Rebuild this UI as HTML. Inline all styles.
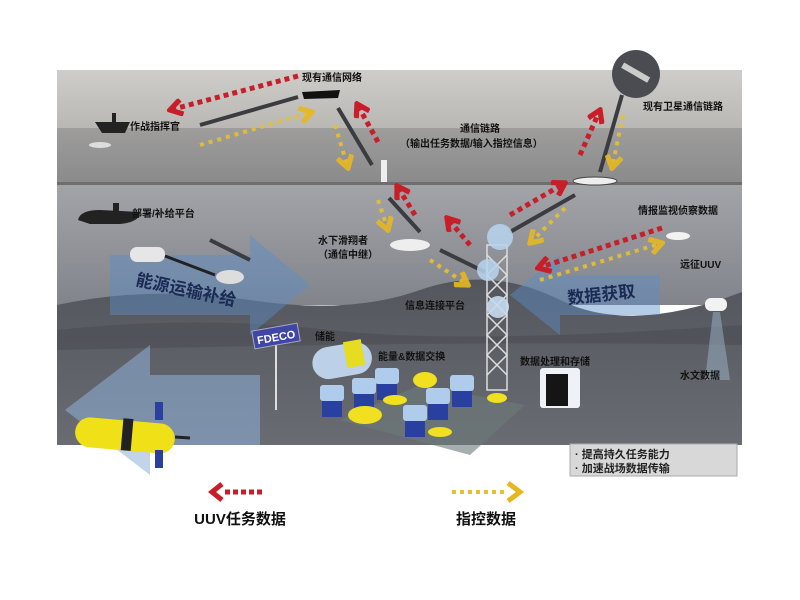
<!DOCTYPE html>
<html><head><meta charset="utf-8"><style>
html,body{margin:0;padding:0;background:#fff;width:800px;height:600px;overflow:hidden}
svg{display:block}
text{font-family:"Liberation Sans","Noto Sans CJK SC",sans-serif;font-weight:bold}
</style></head><body>
<svg width="800" height="600" viewBox="0 0 800 600" xmlns="http://www.w3.org/2000/svg">
<defs>
<linearGradient id="sky" x1="0" y1="0" x2="0" y2="1"><stop offset="0" stop-color="#cfcdca"/><stop offset="1" stop-color="#b9b7b3"/></linearGradient>
<linearGradient id="surf" x1="0" y1="0" x2="0" y2="1"><stop offset="0" stop-color="#9e9d9c"/><stop offset="1" stop-color="#8a8a8b"/></linearGradient>
<linearGradient id="uw" x1="0" y1="0" x2="0" y2="1"><stop offset="0" stop-color="#a3a4a8"/><stop offset="1" stop-color="#81848b"/></linearGradient>
<linearGradient id="bed" x1="0" y1="0" x2="0" y2="1"><stop offset="0" stop-color="#54565d"/><stop offset="1" stop-color="#6a6c73"/></linearGradient>
<marker id="rh" viewBox="0 0 12 12" refX="10" refY="6" markerWidth="18" markerHeight="18" markerUnits="userSpaceOnUse" orient="auto"><path d="M2,1 L10,6 L2,11" fill="none" stroke="#c81e2a" stroke-width="3.5"/></marker>
<marker id="yh" viewBox="0 0 12 12" refX="10" refY="6" markerWidth="18" markerHeight="18" markerUnits="userSpaceOnUse" orient="auto"><path d="M2,1 L10,6 L2,11" fill="none" stroke="#e6b820" stroke-width="3.5"/></marker>
</defs>
<rect x="57" y="70" width="685" height="60" fill="url(#sky)"/>
<rect x="57" y="128" width="685" height="56" fill="url(#surf)"/>
<rect x="57" y="182" width="685" height="4" fill="#6e6e70"/>
<rect x="57" y="185" width="685" height="120" fill="url(#uw)"/>
<path d="M57,305 Q150,285 250,300 T420,290 T560,300 T742,292 L742,445 L57,445Z" fill="url(#bed)"/>
<path d="M57,330 Q200,315 330,330 T742,325 L742,345 Q500,340 57,350Z" fill="#4b4d54" opacity=".6"/>
<!-- blue arrows -->
<path d="M110,255 L250,255 L250,235 L310,285 L250,335 L250,315 L110,315Z" fill="#5c8fc8" opacity=".45"/>
<path d="M660,275 L560,275 L560,255 L510,295 L560,335 L560,315 L660,315Z" fill="#5c8fc8" opacity=".45"/>
<path d="M260,375 L150,375 L150,345 L65,410 L150,475 L150,445 L260,445Z" fill="#8fb0d8" opacity=".55"/>
<!-- link lines -->
<g stroke="#3a3c40" stroke-width="4">
<line x1="200" y1="125" x2="298" y2="97"/><line x1="338" y1="108" x2="372" y2="165"/>
<line x1="389" y1="198" x2="420" y2="232"/><line x1="440" y1="250" x2="485" y2="272"/>
<line x1="510" y1="232" x2="575" y2="195"/><line x1="622" y1="95" x2="600" y2="172"/>
<line x1="250" y1="260" x2="210" y2="240"/>
</g>
<!-- red dotted -->
<g stroke="#c81e2a" stroke-width="5" stroke-dasharray="5 4" fill="none">
<line x1="298" y1="76" x2="170" y2="110" marker-end="url(#rh)"/>
<line x1="378" y1="142" x2="357" y2="104" marker-end="url(#rh)"/>
<line x1="415" y1="215" x2="397" y2="186" marker-end="url(#rh)"/>
<line x1="470" y1="245" x2="447" y2="218" marker-end="url(#rh)"/>
<line x1="510" y1="215" x2="565" y2="183" marker-end="url(#rh)"/>
<line x1="580" y1="155" x2="600" y2="110" marker-end="url(#rh)"/>
<line x1="662" y1="228" x2="538" y2="268" marker-end="url(#rh)"/>
</g>
<!-- yellow dotted -->
<g stroke="#e6c030" stroke-width="4" stroke-dasharray="4 5" fill="none" opacity=".9">
<line x1="200" y1="145" x2="312" y2="112" marker-end="url(#yh)"/>
<line x1="335" y1="125" x2="348" y2="168" marker-end="url(#yh)"/>
<line x1="378" y1="200" x2="388" y2="230" marker-end="url(#yh)"/>
<line x1="430" y1="260" x2="468" y2="285" marker-end="url(#yh)"/>
<line x1="565" y1="208" x2="530" y2="243" marker-end="url(#yh)"/>
<line x1="623" y1="115" x2="612" y2="168" marker-end="url(#yh)"/>
<line x1="540" y1="280" x2="662" y2="243" marker-end="url(#yh)"/>
</g>
<!-- vehicles -->
<path d="M95,122 L130,122 L125,133 L102,133Z" fill="#222"/><rect x="112" y="113" width="4" height="9" fill="#222"/>
<ellipse cx="100" cy="145" rx="11" ry="3" fill="#ddd"/>
<path d="M302,92 L340,90 L338,98 L304,99Z" fill="#111"/>
<path d="M78,220 Q80,210 100,210 L140,212 Q140,222 120,224 L90,224Z" fill="#222"/><rect x="113" y="203" width="6" height="9" fill="#222"/>
<rect x="130" y="247" width="35" height="15" rx="7" fill="#e6e6e6"/>
<line x1="165" y1="256" x2="215" y2="275" stroke="#222" stroke-width="3"/>
<ellipse cx="230" cy="277" rx="14" ry="7" fill="#ddd"/>
<rect x="381" y="160" width="6" height="22" fill="#eee"/>
<ellipse cx="410" cy="245" rx="20" ry="6" fill="#eee"/>
<ellipse cx="595" cy="181" rx="22" ry="4" fill="#eee" stroke="#444"/>
<ellipse cx="678" cy="236" rx="12" ry="4" fill="#f2f2f2"/>
<rect x="705" y="298" width="22" height="13" rx="6" fill="#f2f2f2"/>
<path d="M713,312 L720,312 L730,380 L705,380Z" fill="#9bb4c8" opacity=".5"/>
<circle cx="636" cy="74" r="24" fill="#4a4c52"/><rect x="620" y="70" width="30" height="6" fill="#ccc" transform="rotate(30 636 74)"/>
<!-- tower -->
<g stroke="#ddd" stroke-width="1.5" fill="none">
<rect x="487" y="245" width="20" height="145"/>
<path d="M487,255 L507,275 L487,295 L507,315 L487,335 L507,355 L487,375 M507,255 L487,275 L507,295 L487,315 L507,335 L487,355 L507,375"/>
</g>
<circle cx="500" cy="237" r="13" fill="#b8d4f0" opacity=".85"/>
<circle cx="488" cy="270" r="11" fill="#b8d4f0" opacity=".85"/>
<circle cx="498" cy="307" r="11" fill="#c8daf0" opacity=".9"/>
<!-- seabed equipment -->
<path d="M340,420 L420,385 L525,405 L470,455 Z" fill="#6d7a78" opacity=".6"/>
<rect x="312" y="345" width="60" height="32" rx="16" fill="#bcd0e8" transform="rotate(-10 340 360)"/>
<rect x="346" y="343" width="18" height="26" fill="#e6dc20" transform="rotate(-10 340 360)"/>
<g fill="#2a40a0">
<rect x="322" y="395" width="20" height="22"/><rect x="354" y="388" width="20" height="22"/><rect x="377" y="378" width="20" height="22"/>
<rect x="405" y="415" width="20" height="22"/><rect x="428" y="398" width="20" height="22"/><rect x="452" y="385" width="20" height="22"/>
</g>
<g fill="#b0ccec">
<rect x="320" y="385" width="24" height="16" rx="3"/><rect x="352" y="378" width="24" height="16" rx="3"/><rect x="375" y="368" width="24" height="16" rx="3"/>
<rect x="403" y="405" width="24" height="16" rx="3"/><rect x="426" y="388" width="24" height="16" rx="3"/><rect x="450" y="375" width="24" height="16" rx="3"/>
</g>
<g fill="#f0e020"><ellipse cx="365" cy="415" rx="17" ry="9"/><ellipse cx="425" cy="380" rx="12" ry="8"/><ellipse cx="395" cy="400" rx="12" ry="5"/><ellipse cx="440" cy="432" rx="12" ry="5"/><ellipse cx="497" cy="398" rx="10" ry="5"/></g>
<rect x="540" y="368" width="40" height="40" rx="3" fill="#eef2f6"/><rect x="546" y="374" width="22" height="32" fill="#151515"/>
<line x1="276" y1="345" x2="276" y2="410" stroke="#ddd" stroke-width="2"/>
<rect x="253" y="327" width="46" height="18" fill="#4046a8" stroke="#aab" transform="rotate(-10 276 336)"/>
<text x="276" y="341" font-size="11" fill="#fff" text-anchor="middle" transform="rotate(-10 276 336)">FDECO</text>
<!-- yellow UUV -->
<rect x="75" y="420" width="100" height="30" rx="15" fill="#f0e018" transform="rotate(5 120 435)"/>
<rect x="122" y="418" width="10" height="32" fill="#222" transform="rotate(5 120 435)"/>
<rect x="155" y="402" width="8" height="18" fill="#2a40a0"/><rect x="155" y="450" width="8" height="18" fill="#2a40a0"/>
<line x1="175" y1="437" x2="190" y2="438" stroke="#222" stroke-width="3"/>
<!-- legend box -->
<rect x="570" y="444" width="167" height="32" fill="#d8d8d8" stroke="#aaa"/>
<g font-size="11" fill="#222"><text x="575" y="458">· 提高持久任务能力</text><text x="575" y="472">· 加速战场数据传输</text></g>
<!-- labels -->
<g font-size="10" fill="#111">
<text x="302" y="81">现有通信网络</text>
<text x="130" y="130">作战指挥官</text>
<text x="460" y="132">通信链路</text>
<text x="400" y="147">（输出任务数据/输入指控信息）</text>
<text x="643" y="110">现有卫星通信链路</text>
<text x="132" y="217">部署/补给平台</text>
<text x="318" y="244">水下滑翔者</text>
<text x="318" y="258">（通信中继）</text>
<text x="405" y="309">信息连接平台</text>
<text x="638" y="214">情报监视侦察数据</text>
<text x="680" y="268">远征UUV</text>
<text x="680" y="379">水文数据</text>
<text x="315" y="340">储能</text>
<text x="378" y="360">能量&amp;数据交换</text>
<text x="520" y="365">数据处理和存储</text>
</g>
<text x="135" y="285" font-size="17" fill="#1a2a55" transform="rotate(12 135 285)">能源运输补给</text>
<text x="568" y="304" font-size="17" fill="#1a2a55" transform="rotate(-6 568 304)">数据获取</text>
<!-- bottom legend -->
<line x1="225" y1="492" x2="262" y2="492" stroke="#c81e2a" stroke-width="5" stroke-dasharray="5 3"/>
<path d="M222,484 L212,492 L222,500" fill="none" stroke="#c81e2a" stroke-width="5"/>
<line x1="452" y1="492" x2="505" y2="492" stroke="#e6c030" stroke-width="4" stroke-dasharray="4 4"/>
<path d="M508,483 L520,492 L508,501" fill="none" stroke="#e6b820" stroke-width="5"/>
<text x="240" y="524" font-size="15" fill="#111" text-anchor="middle">UUV任务数据</text>
<text x="486" y="524" font-size="15" fill="#111" text-anchor="middle">指控数据</text>
</svg>
</body></html>
